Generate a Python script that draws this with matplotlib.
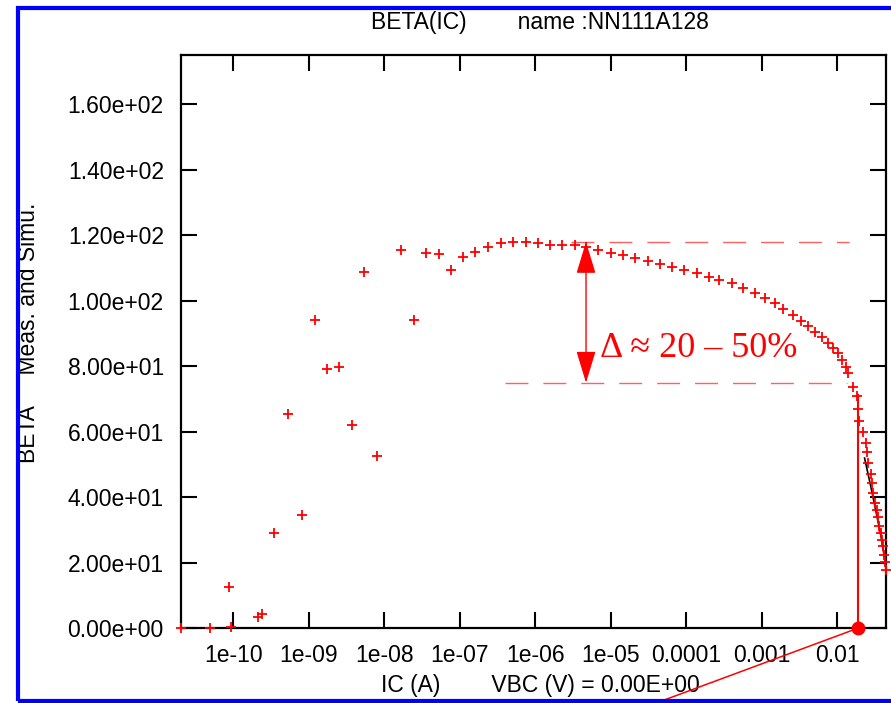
import matplotlib
matplotlib.use("Agg")
import matplotlib.pyplot as plt
import numpy as np
from matplotlib.patches import Rectangle, FancyArrowPatch
from matplotlib.ticker import FixedLocator, FixedFormatter, FuncFormatter

plt.rcParams['font.family'] = ['Liberation Sans', 'DejaVu Sans']

# ---- data ----
ic_meas = [2.03e-11, 4.91e-11, 8.77e-11, 9.33e-11, 2.14e-10, 2.40e-10, 3.49e-10,
           5.26e-10, 8.05e-10, 1.22e-9, 1.73e-9, 2.54e-9, 3.70e-9, 5.43e-9, 7.92e-9,
           1.68e-8, 2.47e-8, 3.56e-8, 5.26e-8, 7.57e-8, 1.11e-7, 1.60e-7, 2.38e-7,
           3.48e-7, 5.02e-7, 7.53e-7, 1.10e-6, 1.57e-6, 2.24e-6, 3.36e-6, 4.70e-6,
           6.82e-6, 9.98e-6, 1.47e-5, 2.09e-5, 3.08e-5, 4.49e-5, 6.41e-5, 9.33e-5,
           1.37e-4, 2.02e-4, 2.73e-4, 3.99e-4, 5.69e-4, 8.13e-4, 1.10e-3, 1.50e-3,
           1.93e-3, 2.56e-3, 3.27e-3, 4.13e-3, 5.07e-3, 6.21e-3, 7.60e-3, 8.85e-3,
           1.03e-2, 1.14e-2, 1.30e-2, 1.40e-2, 1.63e-2, 1.84e-2, 1.88e-2, 1.95e-2,
           2.21e-2, 2.38e-2, 2.49e-2, 2.58e-2, 2.77e-2, 2.86e-2, 3.00e-2, 3.16e-2,
           3.33e-2, 3.43e-2, 3.60e-2, 3.79e-2, 3.91e-2, 4.06e-2, 4.20e-2, 4.29e-2,
           4.38e-2]
beta_meas = [0.0, 0.0, 12.5, 0.5, 3.4, 4.4, 29.1,
             65.5, 34.7, 94.2, 79.3, 79.9, 62.2, 108.8, 52.5,
             115.6, 94.2, 114.6, 114.3, 109.3, 113.3, 115.0, 116.6,
             117.8, 118.0, 118.0, 117.8, 117.1, 117.0, 117.0, 116.4,
             115.4, 114.7, 114.1, 113.1, 112.3, 111.3, 110.5, 109.5,
             108.4, 107.4, 106.4, 105.4, 104.0, 102.5, 100.9, 99.3,
             97.6, 95.7, 94.0, 92.4, 90.6, 89.1, 87.1, 85.6,
             84.0, 82.0, 79.9, 77.9, 73.6, 70.8, 66.9, 63.4,
             60.1, 56.7, 53.7, 50.6, 47.2, 44.3, 41.3, 38.4,
             36.2, 34.0, 31.3, 29.1, 27.0, 25.0, 22.4, 20.1,
             17.9]

ic_sim = [2.3e-2, 2.8e-2, 3.3e-2, 3.8e-2, 4.4e-2]
beta_sim = [52.0, 43.0, 35.0, 28.0, 19.0]

beta_high = 118.0
beta_low = 75.0
ic_high_span = [3.0e-6, 1.45e-2]
ic_low_span = [3.97e-7, 1.34e-2]
ic_arrow = 4.70e-6
ic_marker = 1.86e-2
beta_marker_top = 71.3
ic_pointer_end = 7.16e-6
beta_pointer_end = -29.2

xtick_vals = [1e-10, 1e-9, 1e-8, 1e-7, 1e-6, 1e-5, 1e-4, 1e-3, 1e-2]
xtick_labels = ['1e-10', '1e-09', '1e-08', '1e-07', '1e-06', '1e-05', '0.0001', '0.001', '0.01']
ytick_vals = [0, 20, 40, 60, 80, 100, 120, 140, 160]

W, H = 891, 703
fig = plt.figure(figsize=(W / 100, H / 100), dpi=100)
ax = fig.add_axes([180.5 / W, 1 - 628.3 / H, (885.7 - 180.5) / W, (628.3 - 55) / H])

ax.set_xscale('log')
ax.set_xlim(2.0e-11, 4.38e-2)
ax.set_ylim(0, 175.1)

# measurements
ax.plot(ic_meas, beta_meas, linestyle='none', marker='+', color='red',
        markersize=7.5, markeredgewidth=1.3, clip_on=False, zorder=4)
# simulation
ax.plot(ic_sim, beta_sim, color='black', lw=1.2, zorder=3)

# dashed reference lines
dash_color = '#ff6060'
ax.plot(ic_high_span, [beta_high, beta_high], color=dash_color, lw=1.0,
        dashes=(16.5, 10.8), zorder=2)
ax.plot(ic_low_span, [beta_low, beta_low], color=dash_color, lw=1.0,
        dashes=(16.5, 10.8), zorder=2)

# double arrow
arr = FancyArrowPatch((ic_arrow, beta_high), (ic_arrow, beta_low),
                      arrowstyle='<|-|>,head_length=20,head_width=6.1',
                      mutation_scale=1, color='red', lw=1.0,
                      shrinkA=0, shrinkB=0, zorder=5)
ax.add_patch(arr)
ax.text(7.16e-6, 82.9, 'Δ ≈ 20 – 50%', color='red', fontsize=26,
        family=['Liberation Serif', 'DejaVu Serif'], ha='left', va='baseline', zorder=5)

# vertical marker line, dot and pointer line
ax.plot([ic_marker, ic_marker], [0, beta_marker_top], color='red', lw=1.5, zorder=5)
ax.plot([ic_marker, ic_pointer_end], [0, beta_pointer_end], color='red', lw=1.1,
        clip_on=False, zorder=5)
ax.plot([ic_marker], [0], marker='o', color='red', markersize=9, clip_on=False, zorder=6)

# ticks
ax.minorticks_off()
ax.xaxis.set_major_locator(FixedLocator(xtick_vals))
ax.xaxis.set_major_formatter(FixedFormatter(xtick_labels))
ax.xaxis.set_minor_locator(FixedLocator([]))
ax.yaxis.set_major_locator(FixedLocator(ytick_vals))
ax.yaxis.set_major_formatter(FuncFormatter(lambda v, p: '%.2e' % v))
ax.tick_params(axis='both', which='major', direction='in', top=True, right=True,
               length=11.5, width=1.5, labelsize=16.5, colors='black')
ax.tick_params(axis='y', pad=12)
ax.tick_params(axis='x', pad=11)
for s in ax.spines.values():
    s.set_linewidth(1.6)

ax.set_title('BETA(IC)        name :NN111A128', fontsize=16.5,
             x=(540 - 180.5) / 705.2, pad=19)
ax.set_xlabel('IC (A)        VBC (V) = 0.00E+00', fontsize=16.5)
ax.xaxis.set_label_coords((540 - 180.5) / 705.2, -0.079)
ax.set_ylabel('BETA     Meas. and Simu.', fontsize=16.5)
ax.yaxis.set_label_coords((40 - 180.5) / 705.2, (628.3 - 332.5) / 573.3)

# blue frame
fig.add_artist(Rectangle((18 / W, 1 - 701 / H), 1.2, (701 - 8) / H, fill=False,
                         edgecolor='#0000ff', lw=3.0, transform=fig.transFigure,
                         clip_on=False, zorder=10))

fig.savefig('out.png', dpi=100)
